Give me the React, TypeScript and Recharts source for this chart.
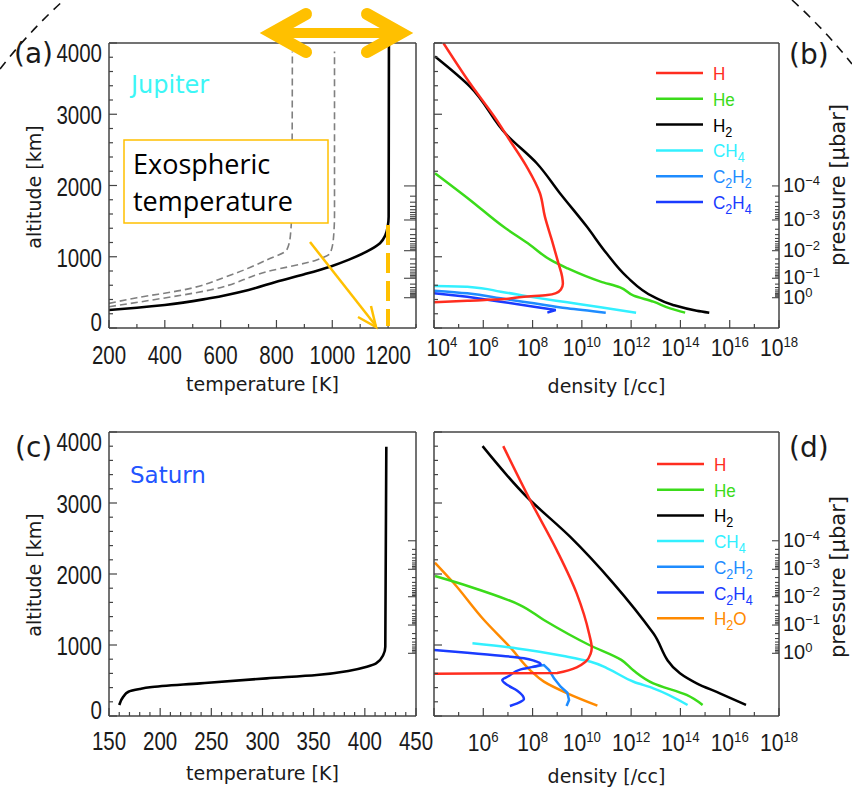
import React from "react";
import { LineChart, Line, XAxis, YAxis } from "recharts";

const W = 852;
const H = 789;
const NARROW = '"Liberation Sans", Arial, sans-serif';
const SANS = '"DejaVu Sans", Verdana, sans-serif';
const GOLD = "#FFC000";
const INK = "#1a1a1a";
const FRAME = "#444";

// (a) Jupiter temperature [K] vs altitude [km]
const jupTempK = [200, 300, 400, 560, 700, 800, 900, 992, 1060, 1123, 1171, 1190, 1199, 1202, 1203];
const jupTempAlt = [253, 285, 323, 417, 534, 650, 755, 861, 960, 1071, 1189, 1300, 1430, 1560, 4000];
const jupCoolK = [200, 300, 466, 620, 765, 837, 850, 855, 857];
const jupCoolAlt = [346, 425, 534, 720, 955, 1095, 1300, 1700, 3880];
const jupWarmK = [200, 350, 562, 765, 944, 992, 1004, 1008, 1008];
const jupWarmAlt = [299, 390, 534, 790, 955, 1048, 1250, 1600, 3880];

// (c) Saturn temperature
const satTempK = [160, 164, 169, 180, 190, 239, 304, 353, 385, 402, 411, 418, 420, 421];
const satTempAlt = [155, 272, 342, 380, 404, 460, 530, 577, 638, 694, 741, 859, 976, 3792];

// (b) Jupiter densities, log10(n /cc)
const jupH_n = [4.38, 5.46, 6.54, 7.02, 7.76, 8.3, 8.5, 8.78, 9.05, 9.2, 9.23, 9.15, 8.95, 8.6, 7.65, 6.71, 5.35, 4.0];
const jupH_z = [4000, 3435, 2920, 2663, 2265, 1891, 1563, 1236, 908, 720, 620, 540, 490, 463, 440, 402, 383, 360];
const jupHe_n = [4.04, 5.46, 6.81, 7.9, 8.73, 9.41, 10.76, 11.55, 12.1, 12.9, 13.58, 14.19];
const jupHe_z = [2172, 1797, 1423, 1165, 955, 838, 651, 570, 455, 370, 276, 215];
const jupH2_n = [4.04, 5.46, 6.95, 8.17, 9.11, 10.2, 11.0, 11.82, 12.9, 13.7, 14.66, 15.17];
const jupH2_z = [3810, 3388, 2710, 2312, 1891, 1423, 1048, 721, 440, 323, 243, 215];
const jupCH4_n = [4.0, 5.35, 6.71, 8.06, 9.41, 10.76, 12.2];
const jupCH4_z = [590, 580, 510, 430, 360, 290, 215];
const jupC2H2_n = [4.0, 5.35, 6.71, 8.06, 9.41, 10.97];
const jupC2H2_z = [524, 487, 416, 346, 276, 215];
const jupC2H4_n = [4.0, 5.35, 6.71, 8.06, 8.94, 8.6];
const jupC2H4_z = [487, 440, 369, 299, 252, 215];

// (d) Saturn densities, log10(n /cc)
const satH_n = [6.81, 7.9, 8.98, 9.79, 10.29, 10.4, 10.36, 10.15, 9.0, 4.0];
const satH_z = [3801, 3041, 2337, 1727, 1164, 960, 882, 765, 605, 595];
const satHe_n = [4.04, 5.46, 7.49, 8.46, 10.3, 11.6, 12.1, 12.9, 14.25, 14.9];
const satHe_z = [1971, 1821, 1563, 1352, 1000, 790, 640, 460, 296, 155];
const satH2_n = [5.97, 7.76, 9.52, 11.28, 12.9, 13.98, 14.66, 15.6, 16.66];
const satH2_z = [3801, 3088, 2525, 1868, 1164, 601, 460, 319, 155];
const satCH4_n = [5.56, 7.38, 9.41, 10.36, 11.03, 12.1, 12.9, 14.29];
const satCH4_z = [1023, 952, 835, 765, 671, 483, 390, 155];
const satC2H2_n = [8.0, 8.46, 8.67, 8.87, 9.14, 9.41, 9.48, 9.38];
const satC2H2_z = [690, 718, 648, 530, 413, 328, 225, 141];
const satC2H4_n = [4.0, 5.35, 6.71, 7.65, 8.06, 8.33, 8.06, 7.52, 7.04, 6.77, 6.98, 7.38, 7.65, 7.38, 7.08];
const satC2H4_z = [929, 892, 850, 812, 779, 727, 695, 657, 563, 507, 436, 357, 239, 178, 141];
const satH2O_n = [4.04, 4.78, 6.03, 7.11, 7.92, 8.46, 9.41, 10.63];
const satH2O_z = [2159, 1880, 1352, 960, 640, 484, 319, 145];

// ticks
const altMajor = [0, 1000, 2000, 3000, 4000];
const jupTempMajor = [200, 400, 600, 800, 1000, 1200];
const satTempMajor = [150, 200, 250, 300, 350, 400, 450];
const densMajor = [4, 6, 8, 10, 12, 14, 16, 18];
const densMinor = [5, 7, 9, 11, 13, 15, 17];
const pressureExp = ["\u22124", "\u22123", "\u22122", "\u22121", "0"];
const jupPressureAlt = [1994, 1516, 1085, 698, 425];
const satPressureAlt = [2468, 2066, 1680, 1281, 883];

const COLORS = {
  H: "#FF2D1F",
  He: "#3BDB1A",
  H2: "#000000",
  CH4: "#33F0FF",
  C2H2: "#1E8CFF",
  C2H4: "#1A3BFF",
  H2O: "#FF8A00",
};

type Part = { t: string; sub?: boolean };
const legendJup: { key: keyof typeof COLORS; parts: Part[] }[] = [
  { key: "H", parts: [{ t: "H" }] },
  { key: "He", parts: [{ t: "He" }] },
  { key: "H2", parts: [{ t: "H" }, { t: "2", sub: true }] },
  { key: "CH4", parts: [{ t: "CH" }, { t: "4", sub: true }] },
  { key: "C2H2", parts: [{ t: "C" }, { t: "2", sub: true }, { t: "H" }, { t: "2", sub: true }] },
  { key: "C2H4", parts: [{ t: "C" }, { t: "2", sub: true }, { t: "H" }, { t: "4", sub: true }] },
];
const legendSat = [...legendJup, { key: "H2O" as const, parts: [{ t: "H" }, { t: "2", sub: true }, { t: "O" }] }];

const range = (a: number, b: number, s: number) => {
  const out: number[] = [];
  for (let v = a; v <= b + 1e-9; v += s) out.push(Math.round(v * 1000) / 1000);
  return out;
};
const toPoints = (xs: number[], ys: number[]) => xs.map((x, i) => ({ x, y: ys[i] }));

const pressureTicks = (alts: number[]) => {
  const minors: number[] = [];
  for (let i = 0; i < alts.length - 1; i++) {
    for (let k = 2; k <= 9; k++) minors.push(alts[i] + (alts[i + 1] - alts[i]) * Math.log10(k));
  }
  return [...alts, ...minors].sort((a, b) => a - b);
};

// condensed text, like the IDL plot font
function NText(props: {
  x: number;
  y: number;
  size: number;
  anchor?: "start" | "middle" | "end";
  fill?: string;
  sx?: number;
  children: React.ReactNode;
}) {
  const { x, y, size, anchor = "start", fill = INK, sx = 0.82, children } = props;
  return (
    <text transform={`translate(${x} ${y}) scale(${sx} 1)`} textAnchor={anchor} fontFamily={NARROW} fontSize={size} fill={fill}>
      {children}
    </text>
  );
}

type Curve = { id: string; color: string; xs: number[]; ys: number[]; dash?: string; width?: number; kind?: "linear" | "monotoneY" };
type Frame = { l: number; r: number; t: number; b: number };

function Panel(props: {
  f: Frame;
  xDomain: [number, number];
  xMajor: number[];
  xMinor: number[];
  xLabel: (v: number, x: number, y: number) => React.ReactNode;
  yLabels: boolean;
  pAlt: number[];
  pLabels: boolean;
  pLen: [number, number];
  curves: Curve[];
}) {
  const { f, xDomain, xMajor, xMinor, xLabel, yLabels, pAlt, pLabels, pLen, curves } = props;
  const xTicks = [...xMajor, ...xMinor].sort((a, b) => a - b);
  const altTicks = range(0, 4000, 200);
  const pTicks = pressureTicks(pAlt);
  const axisLine = { stroke: FRAME, strokeWidth: 1.5 };

  const bottomTick = (p: any) => {
    const v = p.payload.value;
    const major = xMajor.includes(v);
    return (
      <g>
        <line x1={p.x} x2={p.x} y1={p.y} y2={p.y - (major ? 8 : 4)} stroke={FRAME} strokeWidth={1.2} />
        {major ? xLabel(v, p.x, p.y) : null}
      </g>
    );
  };
  const topTick = (p: any) => {
    const major = xMajor.includes(p.payload.value);
    return <line x1={p.x} x2={p.x} y1={p.y} y2={p.y + (major ? 8 : 4)} stroke={FRAME} strokeWidth={1.2} />;
  };
  const leftTick = (p: any) => {
    const v = p.payload.value;
    const major = altMajor.includes(v);
    const yc = Math.min(Math.max(p.y + 1, f.t + 10), f.b - 6);
    return (
      <g>
        <line x1={p.x} x2={p.x + (major ? 8 : 4)} y1={p.y} y2={p.y} stroke={FRAME} strokeWidth={1.2} />
        {major && yLabels ? (
          <NText x={p.x - 7} y={yc + 9} size={25} anchor="end">
            {v}
          </NText>
        ) : null}
      </g>
    );
  };
  const rightTick = (p: any) => {
    const v = p.payload.value;
    const idx = pAlt.indexOf(v);
    const major = idx >= 0;
    return (
      <g>
        <line x1={p.x} x2={p.x - (major ? pLen[0] : pLen[1])} y1={p.y} y2={p.y} stroke={FRAME} strokeWidth={1.1} />
        {major && pLabels ? (
          <NText x={p.x + 4} y={p.y + 6} size={20} sx={1}>
            <tspan>10</tspan>
            <tspan dy={-7} fontSize={13}>
              {pressureExp[idx]}
            </tspan>
          </NText>
        ) : null}
      </g>
    );
  };

  return (
    <div style={{ position: "absolute", left: 0, top: 0 }}>
      <LineChart
        width={W}
        height={H}
        margin={{ top: f.t - 1, bottom: H - f.b - 1, left: f.l - 1, right: W - f.r - 1 }}
      >
        <XAxis xAxisId="b" type="number" dataKey="x" domain={xDomain} ticks={xTicks} interval={0}
          allowDataOverflow height={1} tickSize={0} tickMargin={0} tickLine={false} axisLine={axisLine} tick={bottomTick} />
        <XAxis xAxisId="t" orientation="top" type="number" domain={xDomain} ticks={xTicks} interval={0}
          allowDataOverflow height={1} tickSize={0} tickMargin={0} tickLine={false} axisLine={axisLine} tick={topTick} />
        <YAxis yAxisId="l" type="number" domain={[0, 4000]} ticks={altTicks} interval={0}
          allowDataOverflow width={1} tickSize={0} tickMargin={0} tickLine={false} axisLine={axisLine} tick={leftTick} />
        <YAxis yAxisId="r" orientation="right" type="number" domain={[0, 4000]} ticks={pTicks} interval={0}
          allowDataOverflow width={1} tickSize={0} tickMargin={0} tickLine={false} axisLine={axisLine} tick={rightTick} />
        {curves.map((c) => (
          <Line
            key={c.id}
            xAxisId="b"
            yAxisId="l"
            data={toPoints(c.xs, c.ys)}
            dataKey="y"
            type={c.kind ?? "monotoneY"}
            stroke={c.color}
            strokeWidth={c.width ?? 2.5}
            strokeDasharray={c.dash}
            dot={false}
            activeDot={false}
            isAnimationActive={false}
          />
        ))}
      </LineChart>
    </div>
  );
}

const numLabel = (dy: number) => (v: number, x: number, y: number) => (
  <NText x={x} y={y + dy} size={25} anchor="middle">
    {v}
  </NText>
);
const powLabel = (dy: number, left: number, skip: number[]) => (v: number, x: number, y: number) =>
  skip.includes(v) ? null : (
    <NText x={Math.max(x, left + 8)} y={y + dy} size={24} anchor="middle" sx={0.88}>
      <tspan>10</tspan>
      <tspan dy={-9} fontSize={15}>
        {v}
      </tspan>
    </NText>
  );

function Legend({ items, x, y0, step }: { items: typeof legendSat; x: number; y0: number; step: number }) {
  return (
    <g>
      {items.map((it, i) => {
        const y = y0 + i * step;
        return (
          <g key={it.key}>
            <line x1={x} x2={x + 47} y1={y} y2={y} stroke={COLORS[it.key]} strokeWidth={2.5} />
            <NText x={x + 57} y={y + 7} size={19} sx={0.9} fill={COLORS[it.key]}>
              {it.parts.map((p, j) => (
                <tspan key={j} dy={p.sub ? 5 : j > 0 && it.parts[j - 1].sub ? -5 : 0} fontSize={p.sub ? 14 : 19}>
                  {p.t}
                </tspan>
              ))}
            </NText>
          </g>
        );
      })}
    </g>
  );
}

export default function App() {
  const fa: Frame = { l: 109, r: 416, t: 43, b: 328 };
  const fb: Frame = { l: 434, r: 779, t: 43, b: 328 };
  const fc: Frame = { l: 109, r: 416, t: 432, b: 716 };
  const fd: Frame = { l: 434, r: 779, t: 432, b: 716 };

  const jupCurves: Curve[] = [
    { id: "cool", color: "#808080", xs: jupCoolK, ys: jupCoolAlt, dash: "7 4", width: 1.6 },
    { id: "warm", color: "#808080", xs: jupWarmK, ys: jupWarmAlt, dash: "7 4", width: 1.6 },
    { id: "nominal", color: "#000", xs: jupTempK, ys: jupTempAlt, width: 2.6 },
  ];
  const satCurves: Curve[] = [{ id: "nominal", color: "#000", xs: satTempK, ys: satTempAlt, width: 2.6 }];
  const jupDens: Curve[] = [
    { id: "CH4", color: COLORS.CH4, xs: jupCH4_n, ys: jupCH4_z },
    { id: "C2H2", color: COLORS.C2H2, xs: jupC2H2_n, ys: jupC2H2_z },
    { id: "C2H4", color: COLORS.C2H4, xs: jupC2H4_n, ys: jupC2H4_z, kind: "linear" },
    { id: "He", color: COLORS.He, xs: jupHe_n, ys: jupHe_z },
    { id: "H2", color: COLORS.H2, xs: jupH2_n, ys: jupH2_z },
    { id: "H", color: COLORS.H, xs: jupH_n, ys: jupH_z },
  ];
  const satDens: Curve[] = [
    { id: "H2O", color: COLORS.H2O, xs: satH2O_n, ys: satH2O_z },
    { id: "CH4", color: COLORS.CH4, xs: satCH4_n, ys: satCH4_z },
    { id: "C2H2", color: COLORS.C2H2, xs: satC2H2_n, ys: satC2H2_z, kind: "linear" },
    { id: "C2H4", color: COLORS.C2H4, xs: satC2H4_n, ys: satC2H4_z },
    { id: "He", color: COLORS.He, xs: satHe_n, ys: satHe_z },
    { id: "H2", color: COLORS.H2, xs: satH2_n, ys: satH2_z },
    { id: "H", color: COLORS.H, xs: satH_n, ys: satH_z },
  ];

  return (
    <div style={{ position: "absolute", left: 0, top: 0, width: W, height: H, background: "#fff", overflow: "hidden" }}>
      <Panel f={fa} xDomain={[200, 1300]} xMajor={jupTempMajor} xMinor={range(300, 1300, 200)}
        xLabel={numLabel(36)} yLabels pAlt={jupPressureAlt} pLabels={false} pLen={[12, 6]} curves={jupCurves} />
      <Panel f={fc} xDomain={[150, 450]} xMajor={satTempMajor} xMinor={range(160, 440, 10).filter((v) => v % 50 !== 0)}
        xLabel={numLabel(34)} yLabels pAlt={satPressureAlt} pLabels={false} pLen={[8, 4]} curves={satCurves} />
      <Panel f={fb} xDomain={[4, 18]} xMajor={densMajor} xMinor={densMinor}
        xLabel={powLabel(28, fb.l, [])} yLabels={false} pAlt={jupPressureAlt} pLabels pLen={[7, 4]} curves={jupDens} />
      <Panel f={fd} xDomain={[4, 18]} xMajor={densMajor} xMinor={densMinor}
        xLabel={powLabel(35, fd.l, [4])} yLabels={false} pAlt={satPressureAlt} pLabels pLen={[7, 4]} curves={satDens} />

      <svg width={W} height={H} style={{ position: "absolute", left: 0, top: 0 }}>
        <path d="M 0 69 A 543 543 0 0 1 64 0" fill="none" stroke="#111" strokeWidth={1.6} strokeDasharray="9 7" />
        <path d="M 792 0 A 543 543 0 0 1 852 64" fill="none" stroke="#111" strokeWidth={1.6} strokeDasharray="9 7" />

        {/* axis titles */}
        <g fontFamily={SANS} fontSize={19} fill={INK}>
          <text x={262.5} y={391} textAnchor="middle">temperature [K]</text>
          <text x={262.5} y={780} textAnchor="middle">temperature [K]</text>
          <text x={606.5} y={393} textAnchor="middle">density [/cc]</text>
          <text x={606.5} y={783} textAnchor="middle">density [/cc]</text>
          <text transform="translate(41,187) rotate(-90)" textAnchor="middle">altitude  [km]</text>
          <text transform="translate(41,575) rotate(-90)" textAnchor="middle">altitude  [km]</text>
        </g>
        <g fontFamily={SANS} fontSize={21} fill={INK}>
          <text transform="translate(845,185) rotate(-90)" textAnchor="middle">pressure [μbar]</text>
          <text transform="translate(845,577) rotate(-90)" textAnchor="middle">pressure [μbar]</text>
        </g>

        {/* panel tags */}
        <g fontFamily={SANS} fontSize={28} fill={INK}>
          <text x={14} y={63}>(a)</text>
          <text x={789} y={64}>(b)</text>
          <text x={15} y={457}>(c)</text>
          <text x={789} y={457}>(d)</text>
        </g>
        <text x={131} y={93} fontFamily={SANS} fontSize={24} fill="#3CF6F6">Jupiter</text>
        <text x={130} y={483} fontFamily={SANS} fontSize={23} fill="#2255FF">Saturn</text>

        <Legend items={legendJup} x={656} y0={73} step={25.8} />
        <Legend items={legendSat} x={657} y0={464} step={25.7} />

        {/* exospheric temperature annotation */}
        <line x1={388} x2={388} y1={225} y2={326} stroke={GOLD} strokeWidth={4} strokeDasharray="20 8" />
        <line x1={310} y1={242} x2={376} y2={326} stroke={GOLD} strokeWidth={2.5} />
        <polyline points="358,317 376,327 371,306" fill="none" stroke={GOLD} strokeWidth={2.5} />
        <rect x={124} y={140} width={204} height={83} fill="#fff" stroke={GOLD} strokeWidth={1.5} />
        <g fontFamily='"Open Sans", sans-serif' fontSize={27} fill="#000">
          <text x={133} y={174}>Exospheric</text>
          <text x={133} y={211}>temperature</text>
        </g>
        <line x1={272} x2={401} y1={33} y2={33} stroke={GOLD} strokeWidth={10} />
        <polyline points="306,14 272,33 306,52" fill="none" stroke={GOLD} strokeWidth={12} strokeLinecap="round" strokeLinejoin="miter" />
        <polyline points="367,14 401,33 367,52" fill="none" stroke={GOLD} strokeWidth={12} strokeLinecap="round" strokeLinejoin="miter" />
      </svg>
    </div>
  );
}
